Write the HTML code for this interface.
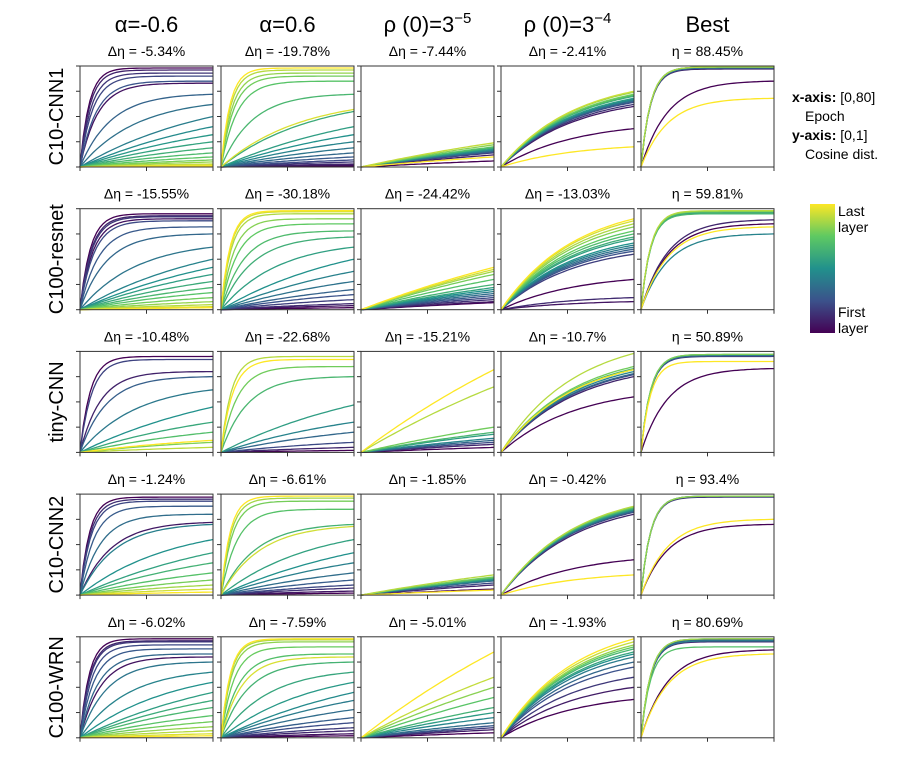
<!DOCTYPE html>
<html><head><meta charset="utf-8"><style>
body{margin:0;background:#fff;}
svg{font-family:"Liberation Sans","DejaVu Sans",sans-serif;}
</style></head><body>
<svg id="fig" width="911" height="761">
<defs><linearGradient id="vir" x1="0" y1="1" x2="0" y2="0">
<stop offset="0" stop-color="#440154"/><stop offset="0.25" stop-color="#3b528b"/><stop offset="0.5" stop-color="#21918c"/><stop offset="0.75" stop-color="#5ec962"/><stop offset="1" stop-color="#fde725"/></linearGradient></defs>
<rect x="810" y="204" width="25" height="129" fill="url(#vir)"/>
<text x="838" y="216" font-size="14">Last</text>
<text x="838" y="232" font-size="14">layer</text>
<text x="838" y="317" font-size="14">First</text>
<text x="838" y="333" font-size="14">layer</text>
<g font-size="14">
<text x="792" y="102"><tspan font-weight="bold">x-axis:</tspan> [0,80]</text>
<text x="805" y="121">Epoch</text>
<text x="792" y="140"><tspan font-weight="bold">y-axis:</tspan>  [0,1]</text>
<text x="805" y="159">Cosine dist.</text>
</g>
</svg>
<script>
const colHeaders=["α=-0.6","α=0.6","ρ (0)=3","ρ (0)=3","Best"];
const colSups=["","","−5","−4",""];
const rowLabels=["C10-CNN1","C100-resnet","tiny-CNN","C10-CNN2","C100-WRN"];
const subTitles=[
["Δη = -5.34%","Δη = -19.78%","Δη = -7.44%","Δη = -2.41%","η = 88.45%"],
["Δη = -15.55%","Δη = -30.18%","Δη = -24.42%","Δη = -13.03%","η = 59.81%"],
["Δη = -10.48%","Δη = -22.68%","Δη = -15.21%","Δη = -10.7%","η = 50.89%"],
["Δη = -1.24%","Δη = -6.61%","Δη = -1.85%","Δη = -0.42%","η = 93.4%"],
["Δη = -6.02%","Δη = -7.59%","Δη = -5.01%","Δη = -1.93%","η = 80.69%"]];
// final cosine distance (epoch 80) per layer, first layer -> last layer
const finals=[
[[0.98,0.83,0.96,0.93,0.9,0.85,0.72,0.62,0.5,0.4,0.32,0.25,0.19,0.14,0.1,0.07,0.05,0.03,0.02,0.01],
 [0.01,0.02,0.03,0.05,0.07,0.1,0.14,0.19,0.25,0.32,0.4,0.55,0.72,0.85,0.9,0.93,0.96,0.57,0.98],
 [0.06,0.12,0.14,0.15,0.16,0.17,0.18,0.19,0.2,0.22,0.24,0.1],
 [0.38,0.6,0.62,0.64,0.65,0.66,0.67,0.68,0.7,0.71,0.72,0.74,0.75,0.2],
 [0.85,0.97,0.98,0.98,0.99,0.99,0.99,0.99,0.68]],
[[0.95,0.9,0.93,0.92,0.88,0.82,0.75,0.62,0.5,0.42,0.35,0.28,0.22,0.17,0.12,0.08,0.05,0.03,0.02],
 [0.02,0.04,0.06,0.1,0.15,0.2,0.28,0.38,0.5,0.62,0.72,0.78,0.85,0.9,0.95,0.97,0.98],
 [0.07,0.08,0.1,0.12,0.14,0.16,0.18,0.2,0.22,0.25,0.3,0.35,0.38,0.4,0.42],
 [0.3,0.08,0.12,0.55,0.58,0.6,0.62,0.64,0.66,0.7,0.72,0.75,0.78,0.82,0.85,0.88,0.9],
 [0.85,0.89,0.97,0.96,0.75,0.96,0.95,0.97,0.98,0.82]],
[[0.95,0.8,0.92,0.75,0.62,0.45,0.3,0.2,0.1,0.05,0.12],
 [0.02,0.05,0.1,0.2,0.3,0.47,0.75,0.85,0.95,0.92],
 [0.05,0.08,0.1,0.12,0.14,0.18,0.2,0.25,0.65,0.82],
 [0.55,0.75,0.77,0.78,0.8,0.82,0.83,0.85,0.98,0.82],
 [0.83,0.95,0.96,0.97,0.97,0.9]],
[[0.97,0.72,0.95,0.93,0.88,0.8,0.7,0.55,0.42,0.32,0.22,0.15,0.1,0.06,0.03],
 [0.02,0.04,0.07,0.1,0.15,0.22,0.32,0.42,0.55,0.7,0.85,0.93,0.96,0.68,0.98],
 [0.06,0.1,0.12,0.14,0.15,0.16,0.17,0.18,0.2,0.05],
 [0.35,0.8,0.82,0.83,0.84,0.85,0.86,0.87,0.88,0.2],
 [0.7,0.97,0.98,0.98,0.98,0.98,0.75]],
[[0.98,0.8,0.96,0.95,0.92,0.88,0.83,0.75,0.65,0.55,0.45,0.37,0.3,0.22,0.16,0.11,0.07,0.04,0.02],
 [0.02,0.04,0.07,0.1,0.15,0.2,0.28,0.37,0.45,0.55,0.65,0.75,0.83,0.9,0.95,0.97,0.8,0.98],
 [0.05,0.08,0.1,0.12,0.15,0.2,0.25,0.3,0.4,0.5,0.6,0.85],
 [0.38,0.5,0.6,0.7,0.75,0.8,0.83,0.85,0.88,0.9,0.92,0.95,0.98],
 [0.87,0.95,0.97,0.96,0.98,0.9,0.98,0.83]]];
// saturation speed per column type (higher = faster rise)
const speedCols=[6,6,0.4,1.8,14];
const xTicks=[0,40,80];
const yTicks=[0,0.25,0.5,0.75,1];
const vir=[[68,1,84],[59,82,139],[33,145,140],[94,201,98],[253,231,37]];
function viridis(t){const s=t*4,i=Math.min(3,Math.floor(s)),f=s-i;const a=vir[i],b=vir[i+1];
return `rgb(${a.map((v,j)=>Math.round(v+(b[j]-v)*f)).join(',')})`;}
const svg=document.getElementById('fig');const NS='http://www.w3.org/2000/svg';
function mk(tag,attrs,parent){const e=document.createElementNS(NS,tag);for(const k in attrs)e.setAttribute(k,attrs[k]);(parent||svg).appendChild(e);return e;}
const colX=[80,221,361,501,641],pw=133,ph=101;
const rowY=r=>66+r*142.7;
colHeaders.forEach((h,c)=>{const t=mk('text',{x:colX[c]+pw/2,y:32,'font-size':22,'text-anchor':'middle'});


t.textContent=h;if(colSups[c]){const s=mk('tspan',{dy:-9,'font-size':15},t);s.textContent=colSups[c];}});
rowLabels.forEach((l,r)=>{const cy=rowY(r)+ph/2;const t=mk('text',{x:0,y:0,'font-size':20,'text-anchor':'middle',transform:`translate(63,${cy}) rotate(-90)`});


t.textContent=l;});
for(let r=0;r<5;r++)for(let c=0;c<5;c++){
 const x0=colX[c],y0=rowY(r);
 const g=mk('g',{});
 
 
 const st=mk('text',{x:x0+pw/2,y:y0-10,'font-size':14,'text-anchor':'middle'},g);
 
 
 st.textContent=subTitles[r][c];
 const xs=v=>x0+v/80*pw, ys=v=>y0+ph-v*ph;
 const arr=finals[r][c],n=arr.length;
 arr.forEach((F,i)=>{
  let k=speedCols[c];
  if(c===0||c===1) k=Math.max(0.8,16*F*F*F*F);
  if(c===4&&F<0.9) k=5;
  let d='';
  for(let e=0;e<=80;e+=2){const t=e/80;const y=F*(1-Math.exp(-k*t))/(1-Math.exp(-k));d+=(e?'L':'M')+xs(e).toFixed(1)+','+ys(y).toFixed(1);}
  const p=mk('path',{d,fill:'none',stroke:viridis(n>1?i/(n-1):0),'stroke-width':1.3},g);
  
  
 });
 const fr=mk('rect',{x:x0,y:y0,width:pw,height:ph,fill:'none',stroke:'#333','stroke-width':1},g);
 
 
 xTicks.forEach(v=>{const l=mk('line',{x1:xs(v),x2:xs(v),y1:y0+ph,y2:y0+ph+4,stroke:'#333'},g);});
 yTicks.forEach(v=>{const l=mk('line',{x1:x0-4,x2:x0,y1:ys(v),y2:ys(v),stroke:'#333'},g);});
}
</script>
</body></html>
